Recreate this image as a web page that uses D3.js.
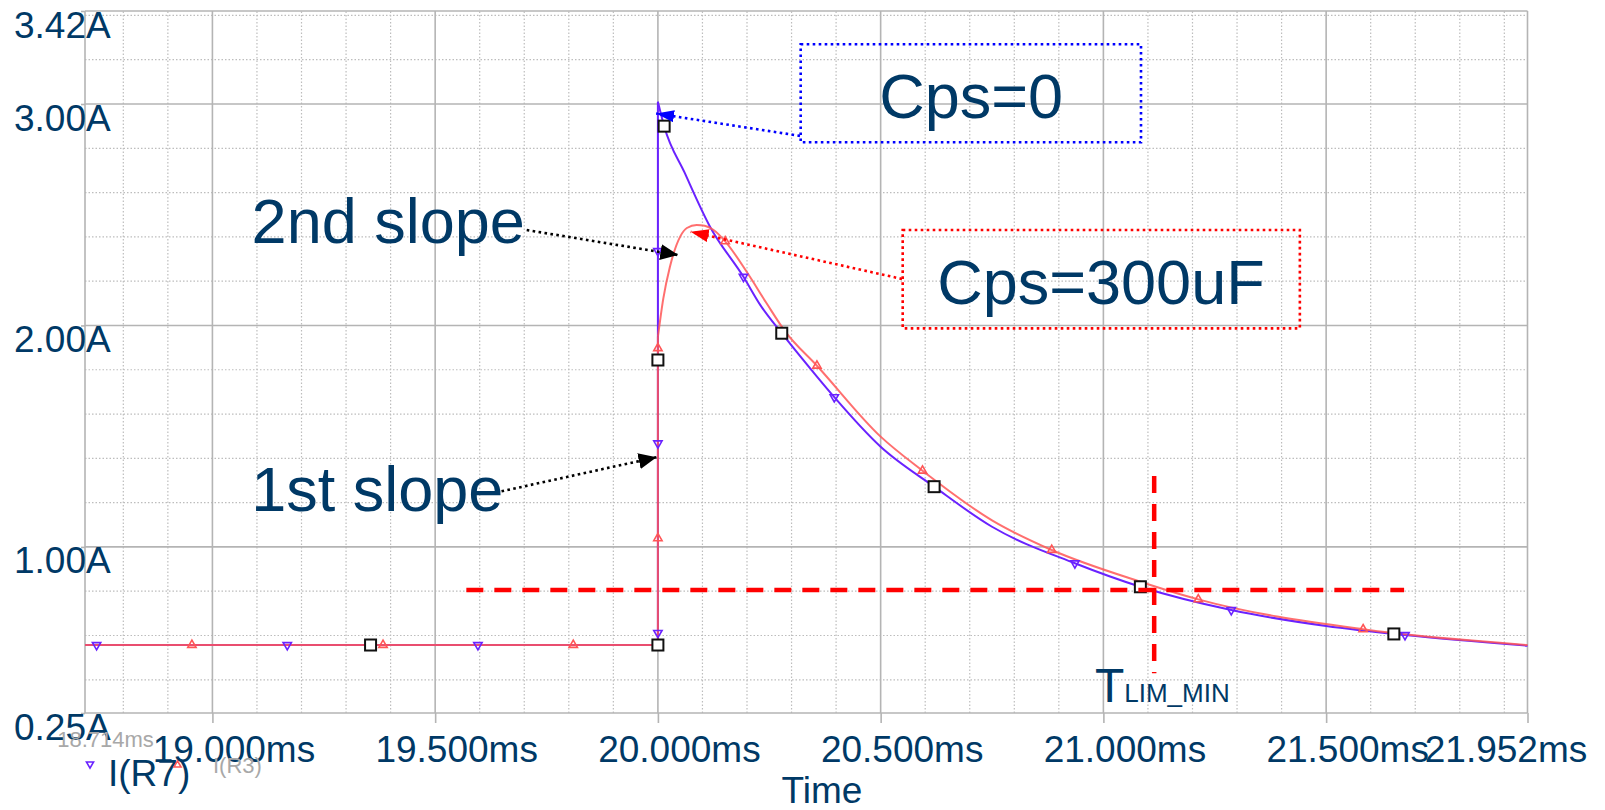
<!DOCTYPE html>
<html>
<head>
<meta charset="utf-8">
<script src="https://cdn.jsdelivr.net/npm/d3@7"></script>
<style>
    html, body { margin: 0; padding: 0; background: #fff; }
    svg { display: block; font-family: "Liberation Sans", Arial, Helvetica, sans-serif; }
</style>
</head>
<body>
<div id="chart"></div>
<script>
// axes
const timeDomain = [18.714, 21.952];
const ampDomain = [0.25, 3.42];
const timeTicks = [19.0, 19.5, 20.0, 20.5, 21.0, 21.5, 21.952];
const ampTicks = [0.25, 1.0, 2.0, 3.0, 3.42];

// I(R7), Cps=0  (time in ms, current in A)
const tR7 = [18.714, 20.0, 20.0, 20.014, 20.06, 20.117, 20.192, 20.23, 20.278, 20.357, 20.396, 20.5, 20.62, 20.75, 20.936, 21.083, 21.287, 21.5, 21.677, 21.952];
const iR7 = [0.557, 0.557, 3.01, 2.90, 2.69, 2.446, 2.22, 2.092, 1.965, 1.769, 1.676, 1.452, 1.272, 1.091, 0.926, 0.820, 0.715, 0.643, 0.602, 0.554];

// I(R3), Cps=300uF
const tR3 = [18.714, 20.0, 20.0, 20.012, 20.027, 20.05, 20.065, 20.087, 20.105, 20.125, 20.151, 20.2, 20.244, 20.286, 20.357, 20.5, 20.594, 20.75, 20.884, 21.083, 21.213, 21.583, 21.952];
const iR3 = [0.557, 0.557, 1.948, 2.12, 2.265, 2.401, 2.44, 2.454, 2.45, 2.431, 2.38, 2.24, 2.10, 1.972, 1.818, 1.498, 1.344, 1.12, 0.986, 0.843, 0.763, 0.628, 0.557];

// trace markers
const tMarkR7 = [18.740, 19.168, 19.596, 20.0, 20.0, 20.0, 20.192, 20.396, 20.936, 21.287, 21.677];
const iMarkR7 = [0.557, 0.557, 0.557, 0.612, 1.468, 2.336, 2.22, 1.676, 0.926, 0.715, 0.602];
const tMarkR3 = [18.954, 19.383, 19.810, 20.0, 20.0, 20.151, 20.357, 20.594, 20.884, 21.213, 21.583];
const iMarkR3 = [0.557, 0.557, 0.557, 1.039, 1.897, 2.38, 1.818, 1.344, 0.986, 0.763, 0.628];

// cursor squares
const tSquare = [19.355, 20.0, 20.0, 20.014, 20.278, 20.62, 21.083, 21.652];
const iSquare = [0.557, 0.557, 1.844, 2.90, 1.965, 1.272, 0.820, 0.607];

// limit lines (red dashed)
const limitLevel = 0.805;
const limitLevelSpan = [19.57, 21.675];
const limitTime = 21.114;
const limitTimeSpan = [0.43, 1.32];

const width = 1605, height = 810;
const navy = "#003966";
const blue = "#6a22ff";
const red = "#ff5656";

const x = d3.scaleLinear().domain(timeDomain).range([85, 1527.5]);
const y = d3.scaleLinear().domain(ampDomain).range([713, 11]);

const svg = d3.select("#chart").append("svg")
    .attr("width", width)
    .attr("height", height);

svg.append("rect").attr("width", width).attr("height", height).attr("fill", "#fff");

// arrow heads
const defs = svg.append("defs");
[["blue", "#0000ff", 12], ["red", "#ff0000", 13], ["black", "#000", 16]].forEach(([id, c, h]) => {
    defs.append("marker")
        .attr("id", "arrow-" + id)
        .attr("viewBox", "0 0 10 10")
        .attr("preserveAspectRatio", "none")
        .attr("refX", 10).attr("refY", 5)
        .attr("markerWidth", 18)
        .attr("markerHeight", h)
        .attr("markerUnits", "userSpaceOnUse")
        .attr("orient", "auto")
        .append("path")
        .attr("d", "M0,0 L10,5 L0,10 z")
        .attr("fill", c);
});

// grid
const grid = svg.append("g");
const minorT = d3.range(18.8, 21.95, 0.1).filter(t => !timeTicks.some(m => Math.abs(m - t) < 1e-6));
const minorI = d3.range(0.4, 3.41, 0.2).filter(v => ![1, 2, 3].some(m => Math.abs(m - v) < 1e-6));

grid.selectAll(".minor-x").data(minorT).enter().append("line")
    .attr("x1", d => x(d)).attr("x2", d => x(d))
    .attr("y1", y(ampDomain[0])).attr("y2", y(ampDomain[1]))
    .attr("stroke", "#bdbdbd").attr("stroke-width", 1.2)
    .attr("stroke-dasharray", "1.5,2");

grid.selectAll(".minor-y").data(minorI).enter().append("line")
    .attr("x1", x(timeDomain[0])).attr("x2", x(timeDomain[1]))
    .attr("y1", d => y(d)).attr("y2", d => y(d))
    .attr("stroke", "#bdbdbd").attr("stroke-width", 1.2)
    .attr("stroke-dasharray", "1.5,2");

grid.selectAll(".major-x").data(timeTicks).enter().append("line")
    .attr("x1", d => x(d)).attr("x2", d => x(d))
    .attr("y1", y(ampDomain[0])).attr("y2", y(ampDomain[1]))
    .attr("stroke", "#b4b4b4").attr("stroke-width", 1.6);

grid.selectAll(".major-y").data(ampTicks).enter().append("line")
    .attr("x1", x(timeDomain[0])).attr("x2", x(timeDomain[1]))
    .attr("y1", d => y(d)).attr("y2", d => y(d))
    .attr("stroke", "#b4b4b4").attr("stroke-width", 1.6);

grid.append("line")
    .attr("x1", x(timeDomain[0])).attr("x2", x(timeDomain[0]))
    .attr("y1", y(ampDomain[0])).attr("y2", y(ampDomain[1]))
    .attr("stroke", "#b4b4b4").attr("stroke-width", 1.6);

// x axis
const xAxis = svg.append("g")
    .attr("transform", `translate(0,${y(ampDomain[0])})`)
    .call(d3.axisBottom(x).tickValues(timeTicks).tickSize(10)
        .tickFormat(d => d3.format(".3f")(d) + "ms"));
xAxis.select(".domain").remove();
xAxis.selectAll(".tick line").attr("stroke", "#b4b4b4").attr("stroke-width", 1.6);
xAxis.selectAll(".tick text")
    .attr("fill", navy)
    .attr("font-size", 37)
    .attr("dy", null)
    .attr("y", 49)
    .attr("x", (d, i) => i === timeTicks.length - 1 ? -22 : 21);

// y axis
const yAxis = svg.append("g")
    .attr("transform", `translate(${x(timeDomain[0])},0)`)
    .call(d3.axisLeft(y).tickValues(ampTicks).tickSize(4)
        .tickFormat(d => d3.format(".2f")(d) + "A"));
yAxis.select(".domain").remove();
yAxis.selectAll(".tick line").attr("stroke", "#b4b4b4").attr("stroke-width", 1.6);
yAxis.selectAll(".tick text")
    .attr("fill", navy)
    .attr("font-size", 37)
    .attr("text-anchor", "start")
    .attr("dy", null)
    .attr("x", 14 - x(timeDomain[0]))
    .attr("y", 26);

// range start label
svg.append("text")
    .attr("x", x(timeDomain[0]) + 20.5)
    .attr("y", 747)
    .attr("text-anchor", "middle")
    .attr("font-size", 22)
    .attr("fill", "#a8a8a8")
    .text(d3.format(".3f")(timeDomain[0]) + "ms");

svg.append("text")
    .attr("x", 822)
    .attr("y", 803)
    .attr("text-anchor", "middle")
    .attr("font-size", 37)
    .attr("fill", navy)
    .text("Time");

// traces
const toPts = (ts, vs) => ts.map((t, i) => [t, vs[i]]);
const r7 = toPts(tR7, iR7);
const r3 = toPts(tR3, iR3);
const stepLine = d3.line().x(d => x(d[0])).y(d => y(d[1]));
const smoothLine = d3.line().x(d => x(d[0])).y(d => y(d[1])).curve(d3.curveMonotoneX);

function drawTrace(pts, color, opacity) {
    const g = svg.append("g").attr("fill", "none").attr("stroke", color)
        .attr("stroke-width", 2).attr("stroke-opacity", opacity);
    g.append("path").attr("d", stepLine(pts.slice(0, 3)));
    g.append("path").attr("d", smoothLine(pts.slice(2)));
}
drawTrace(r7, blue, 1);
drawTrace(r3, red, 0.85);

// trace markers
const triDown = d3.symbol().type(d3.symbolTriangle).size(30);
svg.append("g").selectAll("path").data(toPts(tMarkR7, iMarkR7)).enter().append("path")
    .attr("d", triDown)
    .attr("transform", d => `translate(${x(d[0])},${y(d[1])}) rotate(180)`)
    .attr("fill", "none").attr("stroke", blue).attr("stroke-width", 1.6);
svg.append("g").selectAll("path").data(toPts(tMarkR3, iMarkR3)).enter().append("path")
    .attr("d", triDown)
    .attr("transform", d => `translate(${x(d[0])},${y(d[1])})`)
    .attr("fill", "none").attr("stroke", red).attr("stroke-width", 1.6);

// cursor squares
svg.append("g").selectAll("rect").data(toPts(tSquare, iSquare)).enter().append("rect")
    .attr("x", d => x(d[0]) - 5.5).attr("y", d => y(d[1]) - 5.5)
    .attr("width", 11).attr("height", 11)
    .attr("fill", "#fff").attr("stroke", "#111").attr("stroke-width", 2);

// limit lines
svg.append("line")
    .attr("x1", x(limitLevelSpan[0])).attr("x2", x(limitLevelSpan[1]))
    .attr("y1", y(limitLevel)).attr("y2", y(limitLevel))
    .attr("stroke", "#ff0000").attr("stroke-width", 4.5)
    .attr("stroke-dasharray", "17,11");
svg.append("line")
    .attr("x1", x(limitTime)).attr("x2", x(limitTime))
    .attr("y1", y(limitTimeSpan[1])).attr("y2", y(limitTimeSpan[0]))
    .attr("stroke", "#ff0000").attr("stroke-width", 4.5)
    .attr("stroke-dasharray", "17,11");

// annotations (time, current)
const boxes = [
    { t0: 20.3205, t1: 21.0844, v0: 3.270, v1: 2.827, color: "#0000ff",
      label: "Cps=0", lt: 20.497, lv: 2.935,
      from: [20.319, 2.856], to: [19.996, 2.957], arrow: "blue" },
    { t0: 20.5495, t1: 21.441, v0: 2.431, v1: 1.987, color: "#ff0000",
      label: "Cps=300uF", lt: 20.627, lv: 2.096,
      from: [20.548, 2.21], to: [20.0736, 2.423], arrow: "red" }
];
const notes = [
    { label: "2nd slope", lt: 19.088, lv: 2.371, from: [19.7055, 2.431], to: [20.0458, 2.318] },
    { label: "1st slope", lt: 19.087, lv: 1.162, from: [19.649, 1.251], to: [19.997, 1.405] }
];

boxes.forEach(b => {
    svg.append("rect")
        .attr("x", x(b.t0)).attr("y", y(b.v0))
        .attr("width", x(b.t1) - x(b.t0)).attr("height", y(b.v1) - y(b.v0))
        .attr("fill", "none").attr("stroke", b.color)
        .attr("stroke-width", 2.6).attr("stroke-dasharray", "2.6,3.4");
    svg.append("line")
        .attr("x1", x(b.from[0])).attr("y1", y(b.from[1]))
        .attr("x2", x(b.to[0])).attr("y2", y(b.to[1]))
        .attr("stroke", b.color).attr("stroke-width", 2.6).attr("stroke-dasharray", "2.6,3.4")
        .attr("marker-end", `url(#arrow-${b.arrow})`);
    svg.append("text")
        .attr("x", x(b.lt)).attr("y", y(b.lv))
        .attr("font-size", 63).attr("fill", navy)
        .text(b.label);
});

notes.forEach(n => {
    svg.append("text")
        .attr("x", x(n.lt)).attr("y", y(n.lv))
        .attr("font-size", 63).attr("fill", navy)
        .text(n.label);
    svg.append("line")
        .attr("x1", x(n.from[0])).attr("y1", y(n.from[1]))
        .attr("x2", x(n.to[0])).attr("y2", y(n.to[1]))
        .attr("stroke", "#000").attr("stroke-width", 2.6).attr("stroke-dasharray", "2.6,3.4")
        .attr("marker-end", "url(#arrow-black)");
});

// T_LIM_MIN
const tlim = svg.append("text")
    .attr("x", x(20.981)).attr("y", y(0.301))
    .attr("fill", navy);
tlim.append("tspan").attr("font-size", 48).text("T");
tlim.append("tspan").attr("font-size", 26).text("LIM_MIN");

// legend
svg.append("path")
    .attr("d", d3.symbol().type(d3.symbolTriangle).size(22))
    .attr("transform", "translate(90,764) rotate(180)")
    .attr("fill", "none").attr("stroke", blue).attr("stroke-width", 1.6);
svg.append("text")
    .attr("x", 108).attr("y", 786)
    .attr("font-size", 37).attr("fill", navy)
    .text("I(R7)");
svg.append("path")
    .attr("d", d3.symbol().type(d3.symbolTriangle).size(22))
    .attr("transform", "translate(177.5,765)")
    .attr("fill", "none").attr("stroke", red).attr("stroke-width", 1.6);
svg.append("text")
    .attr("x", 213).attr("y", 773)
    .attr("font-size", 22).attr("fill", "#a8a8a8")
    .text("I(R3)");
</script>
</body>
</html>
